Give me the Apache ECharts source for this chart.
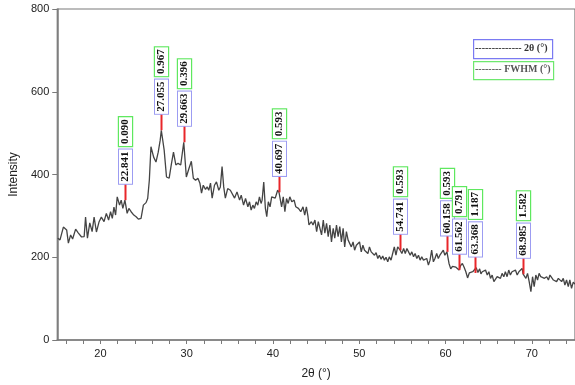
<!DOCTYPE html>
<html>
<head>
<meta charset="utf-8">
<script src="https://cdn.jsdelivr.net/npm/echarts@6/dist/echarts.min.js"></script>
<style>html,body{margin:0;padding:0;background:#fff}#c{width:575px;height:385px}</style>
</head>
<body>
<div id="c"></div>
<script>
// ---- data ----
var thetaValues = [15.06,15.32,15.71,16.09,16.29,16.55,16.78,17.13,17.43,17.82,18.12,18.28,18.5,18.77,19.04,19.27,19.54,19.85,20.11,20.42,20.69,20.95,21.18,21.38,21.57,21.76,21.95,22.22,22.41,22.6,22.84,23.1,23.3,23.56,23.87,24.14,24.4,24.71,24.98,25.29,25.48,25.67,25.86,26.17,26.44,26.7,26.93,27.06,27.39,27.66,27.97,28.24,28.47,28.74,29.0,29.31,29.66,29.96,30.27,30.54,30.77,31.03,31.3,31.53,31.72,31.92,32.18,32.37,32.56,32.76,32.95,33.22,33.45,33.72,33.9,34.1,34.29,34.48,34.75,35.06,35.29,35.55,35.83,36.13,36.32,36.59,36.82,37.09,37.28,37.47,37.67,37.85,38.05,38.24,38.43,38.62,38.74,38.93,39.12,39.28,39.46,39.66,39.85,40.03,40.26,40.54,40.7,41.0,41.19,41.38,41.57,41.76,41.95,42.18,42.45,42.64,42.95,43.22,43.48,43.68,43.87,44.06,44.17,44.45,44.64,44.86,45.06,45.25,45.44,45.63,45.83,46.01,46.21,46.4,46.59,46.78,46.98,47.16,47.36,47.55,47.74,47.93,48.13,48.31,48.51,48.7,48.89,49.08,49.28,49.46,49.66,49.85,50.03,50.23,50.42,50.61,50.8,51.0,51.18,51.38,51.57,51.76,51.95,52.15,52.33,52.53,52.72,52.91,53.1,53.3,53.48,53.68,53.87,54.06,54.25,54.45,54.74,54.94,55.14,55.33,55.52,55.71,55.9,56.09,56.29,56.47,56.67,56.86,57.05,57.24,57.44,57.62,57.82,58.01,58.2,58.39,58.59,58.77,58.97,59.16,59.34,59.54,59.74,59.92,60.16,60.4,60.6,60.8,61.0,61.2,61.4,61.56,61.75,61.95,62.15,62.35,62.55,62.75,62.95,63.15,63.37,63.55,63.75,63.95,64.1,64.25,64.45,64.63,64.83,65.02,65.21,65.4,65.6,65.78,65.98,66.17,66.36,66.55,66.75,66.93,67.13,67.32,67.51,67.7,67.9,68.1,68.3,68.5,68.68,68.87,68.99,69.31,69.5,69.69,69.89,70.08,70.27,70.46,70.66,70.84,71.03,71.23,71.46,71.72,71.92,72.1,72.3,72.5,72.68,72.87,73.07,73.25,73.45,73.64,73.83,74.02,74.22,74.4,74.6,74.8,75.0];
var intensityValues = [246,242,273,266,234,254,244,268,259,249,250,297,246,283,262,297,261,286,297,286,306,290,310,294,321,302,346,326,338,318,338,306,318,310,302,298,292,294,326,332,342,386,467,442,430,454,483,507,459,394,391,427,454,423,427,423,478,394,415,432,391,386,391,379,355,374,364,370,362,379,343,374,382,362,370,419,370,343,366,362,366,343,358,338,350,326,342,322,334,314,326,318,334,326,346,330,338,382,318,298,334,322,346,350,343,362,357,322,346,310,342,330,346,334,338,322,318,310,322,302,322,298,278,286,278,290,262,286,282,254,290,258,282,250,278,237,270,246,278,250,274,237,270,225,262,242,242,225,237,217,229,225,237,213,229,217,221,209,225,213,209,205,211,197,205,195,203,193,200,189,201,193,209,225,205,225,217,209,221,209,221,213,205,213,201,209,197,205,193,201,193,189,197,181,193,217,189,197,209,197,205,201,217,205,213,185,172,178,174,176,172,169,180,185,176,165,150,162,158,165,162,175,163,172,160,165,161,169,157,165,149,157,141,145,153,157,149,161,153,165,153,169,157,165,161,169,157,165,161,173,159,149,161,141,117,153,129,157,145,161,153,157,149,153,145,157,153,145,149,141,149,145,141,149,133,145,129,145,125,140,135];

var peakTheta = [22.841, 27.055, 29.663, 40.697, 54.741, 60.158, 61.562, 63.368, 68.985];
var peakIntensity = [338, 507, 478, 357, 217, 213, 169, 162, 159];
var peakThetaLabels = ['22.841', '27.055', '29.663', '40.697', '54.741', '60.158', '61.562', '63.368', '68.985'];
var peakFwhmLabels = ['0.090', '0.967', '0.396', '0.593', '0.593', '0.593', '0.791', '1.187', '1.582'];

var xLabelValues = [20, 30, 40, 50, 60, 70];
var xTickValues = [16,18,20,22,24,26,28,30,32,34,36,38,40,42,44,46,48,50,52,54,56,58,60,62,64,66,68,70,72,74];
var yMin = 0, yMax = 800, yInterval = 200;
var legendLabels = ['-------------- 2\u03b8 (\u00b0)', '-------- FWHM (\u00b0)'];

// ---- chart ----
var lineData = thetaValues.map(function (x, i) { return [x, intensityValues[i]]; });
var peakData = peakTheta.map(function (x, i) { return [x, peakIntensity[i]]; });
var axisGray = '#7a7a7a';
var serifBold = 'bold 11px "Liberation Serif", "DejaVu Serif", serif';

var chart = echarts.init(document.getElementById('c'), null, { renderer: 'canvas' });
chart.setOption({
  animation: false,
  backgroundColor: '#ffffff',
  grid: { left: 55, top: 9, width: 523, height: 331, show: true, borderColor: axisGray, borderWidth: 1.2, backgroundColor: 'transparent' },
  xAxis: {
    type: 'value', min: 15, max: 75,
    name: '2\u03b8 (\u00b0)', nameLocation: 'middle', nameGap: 28,
    nameTextStyle: { fontFamily: '"Liberation Sans", Arial, sans-serif', fontSize: 12, color: '#222' },
    axisLine: { show: true, onZero: false, lineStyle: { color: axisGray, width: 1.5 } },
    axisTick: { show: true, inside: false, length: 4, customValues: xTickValues, lineStyle: { color: axisGray, width: 1 } },
    axisLabel: { customValues: xLabelValues, margin: 8, fontFamily: '"Liberation Sans", Arial, sans-serif', fontSize: 11, color: '#222' },
    splitLine: { show: false }
  },
  yAxis: {
    type: 'value', min: yMin, max: yMax, interval: yInterval,
    name: 'Intensity', nameLocation: 'middle', nameGap: 27,
    nameTextStyle: { fontFamily: '"Liberation Sans", Arial, sans-serif', fontSize: 12, color: '#222' },
    axisLine: { show: true, lineStyle: { color: axisGray, width: 1.5 } },
    axisTick: { show: true, inside: false, length: 5, lineStyle: { color: axisGray, width: 1 } },
    axisLabel: { margin: 8, fontFamily: '"Liberation Sans", Arial, sans-serif', fontSize: 11, color: '#222' },
    splitLine: { show: false }
  },
  series: [
    {
      type: 'line', data: lineData, showSymbol: false, symbol: 'none',
      lineStyle: { color: '#444444', width: 1.3 }, z: 2
    },
    {
      type: 'custom', data: peakData, clip: false, z: 5,
      renderItem: function (params, api) {
        var i = params.dataIndex;
        var pt = api.coord([api.value(0), api.value(1)]);
        var x = Math.round(pt[0]) + 0.5, y = pt[1];
        return {
          type: 'group',
          children: [
            { type: 'line', shape: { x1: x, y1: y, x2: x, y2: y - 16 }, style: { stroke: '#e8262a', lineWidth: 2 } },
            { type: 'text', x: x, y: y - 33.5, rotation: Math.PI / 2,
              style: { text: peakThetaLabels[i], font: serifBold, fill: '#111', align: 'center', verticalAlign: 'middle',
                       backgroundColor: '#fff', borderColor: '#9c9cf2', borderWidth: 1, padding: [1, 2, 0, 2], lineHeight: 12 } },
            { type: 'text', x: x, y: y - 68.5, rotation: Math.PI / 2,
              style: { text: peakFwhmLabels[i], font: serifBold, fill: '#111', align: 'center', verticalAlign: 'middle',
                       backgroundColor: '#fff', borderColor: '#5fe85f', borderWidth: 1.2, padding: [1, 2, 0, 2], lineHeight: 12 } }
          ]
        };
      }
    }
  ],
  graphic: [
    { type: 'rect', left: 473, top: 39, shape: { width: 79, height: 19 }, style: { fill: '#fff', stroke: '#7a7af2', lineWidth: 1.2 } },
    { type: 'text', left: 475, top: 43, style: { text: legendLabels[0], font: 'bold 10px "Liberation Serif", serif', fill: '#333' } },
    { type: 'rect', left: 473, top: 61, shape: { width: 80, height: 18 }, style: { fill: '#fff', stroke: '#6ee86e', lineWidth: 1.2 } },
    { type: 'text', left: 475, top: 64, style: { text: legendLabels[1], font: 'bold 10px "Liberation Serif", serif', fill: '#555' } }
  ]
});
</script>
</body>
</html>
